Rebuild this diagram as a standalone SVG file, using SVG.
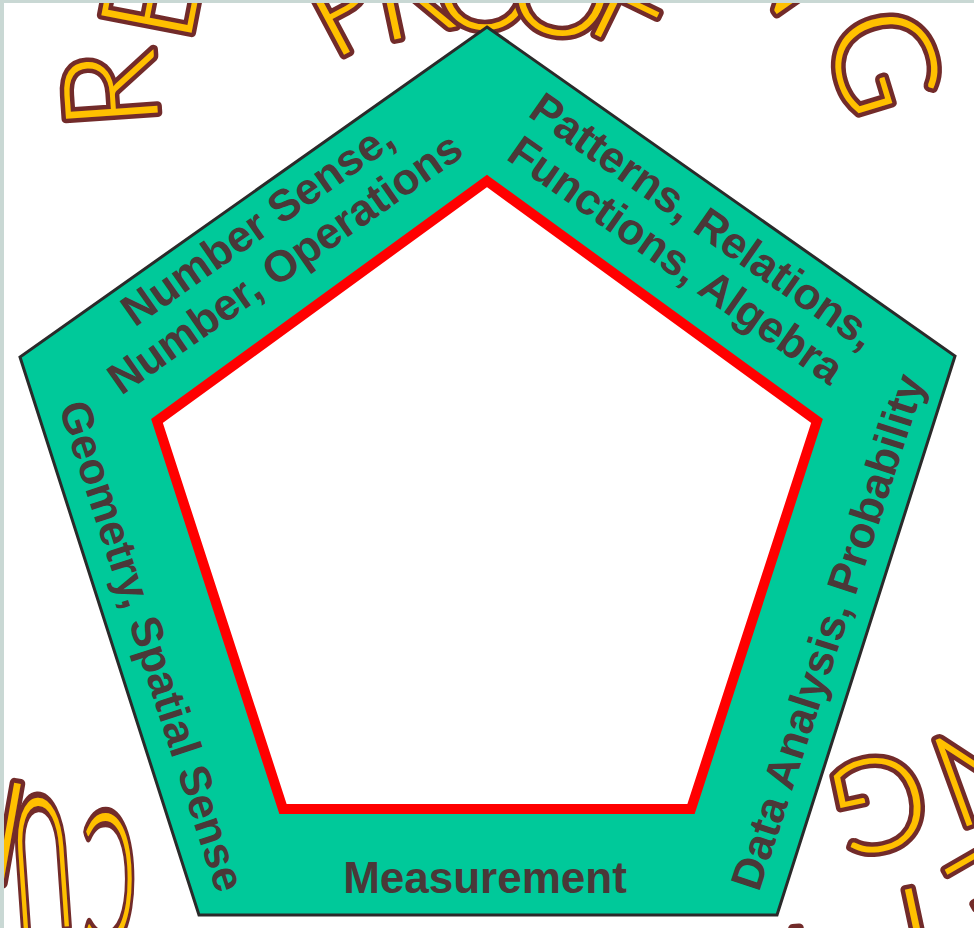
<svg xmlns="http://www.w3.org/2000/svg" width="974" height="928" viewBox="0 0 974 928">
<style>
.deco{font-family:Lato,"DejaVu Sans",sans-serif;font-weight:300;font-size:130px;fill:#FFC000;stroke:#722B2A;stroke-width:9;paint-order:stroke;stroke-linejoin:round;text-anchor:middle}
.lbl{font-family:"Liberation Sans",Arial,sans-serif;font-weight:bold;font-size:44px;fill:#4A3838;text-anchor:middle}
</style>
<rect x="0" y="0" width="974" height="928" fill="#FFFFFF"/>
<g id="decor">
<text class="deco" transform="translate(109,90) rotate(-94)" y="47">R</text>
<text class="deco" transform="translate(150,0) rotate(-79)" y="47">E</text>
<text class="deco" transform="translate(343,2) rotate(-28)" y="47">P</text>
<text class="deco" transform="translate(410,-12) rotate(-12)" y="47">R</text>
<text class="deco" transform="translate(485,-18) rotate(0)" y="47">O</text>
<text class="deco" transform="translate(562,-12) rotate(12)" y="47">O</text>
<text class="deco" transform="translate(636,2) rotate(26)" y="47">F</text>
<text class="deco" transform="translate(795,-42) rotate(55)" y="47">N</text>
<text class="deco" transform="translate(882,62) rotate(73)" y="47" style="font-size:140px">G</text>
<text class="deco" transform="translate(985,772) rotate(160)" y="47">N</text>
<text class="deco" transform="translate(880,805) rotate(168)" y="47">G</text>
<text class="deco" transform="translate(995,895) rotate(150)" y="47">E</text>
<text class="deco" transform="translate(918,935) rotate(168)" y="47">I</text>
<text class="deco" transform="translate(800,975) rotate(175)" y="47">T</text>
<text class="deco" transform="translate(9,832) rotate(10) scale(1,1.1)" y="47">I</text>
<text class="deco" transform="translate(42,865) rotate(176) scale(0.65,1.4)" y="47">U</text>
<text class="deco" transform="translate(110,880) rotate(180) scale(0.6,1.4)" y="47">C</text>
</g>
<g id="outer-pentagon">
<polygon points="487,27 955,356 777,915 199,915 20,357" fill="#00C99A" stroke="#2A2A2A" stroke-width="3" stroke-linejoin="miter"/>
</g>
<g id="inner-pentagon">
<polygon points="487,181 817,421 691,809 283,809 157,421" fill="#FFFFFF" stroke="#FF0000" stroke-width="10" stroke-linejoin="miter"/>
</g>
<g id="label-number">
<text class="lbl" transform="translate(266,236) rotate(-35)"><tspan x="0" y="0">Number Sense,</tspan><tspan x="0" y="48">Number, Operations</tspan></text>
</g>
<g id="label-patterns">
<text class="lbl" transform="translate(695,233) rotate(35)"><tspan x="0" y="0">Patterns, Relations,</tspan><tspan x="0" y="48">Functions, Algebra</tspan></text>
</g>
<g id="label-geometry">
<text class="lbl" transform="translate(152,646) rotate(72)" y="15">Geometry, Spatial Sense</text>
</g>
<g id="label-data">
<text class="lbl" transform="translate(828,632) rotate(-72)" y="15">Data Analysis, Probability</text>
</g>
<g id="label-measurement">
<text class="lbl" x="485" y="893">Measurement</text>
</g>
<g id="connectors"/>
<rect x="0" y="0" width="974" height="3" fill="#C9D8D4"/>
<rect x="0" y="0" width="4" height="928" fill="#C9D8D4"/>
</svg>
